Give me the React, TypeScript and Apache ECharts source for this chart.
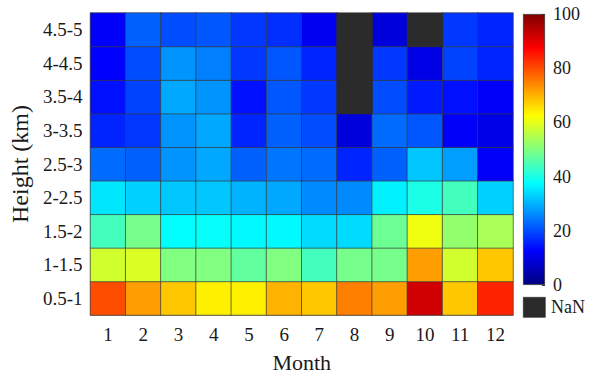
import React, { useEffect, useRef } from "react";
import * as echarts from "echarts";

const months = ["1", "2", "3", "4", "5", "6", "7", "8", "9", "10", "11", "12"];
const heights = ["0.5-1", "1-1.5", "1.5-2", "2-2.5", "2.5-3", "3-3.5", "3.5-4", "4-4.5", "4.5-5"];
const colorbarTicks = [0, 20, 40, 60, 80, 100];

// values per height bin, months 1..12 (null = NaN)
const row05_1 = [80, 72, 68, 64, 64, 70, 68, 75, 72, 92, 68, 84];
const row1_15 = [58, 59, 50, 50, 47, 50, 44, 49, 49, 72, 58, 68];
const row15_2 = [44, 49, 37.5, 38, 37, 37, 34, 34, 48, 61, 52, 54];
const row2_25 = [35, 33, 32, 32, 30, 29, 26, 26, 36, 40, 44, 33];
const row25_3 = [23, 22, 27, 29, 22, 24, 23, 16, 22, 32, 28, 12];
const row3_35 = [16, 18, 27, 29, 16, 22, 20, 9, 23, 21, 12, 10];
const row35_4 = [14, 19, 29, 27, 14, 21, 18, null, 20, 15, 14, 12];
const row4_45 = [12.5, 20, 27, 25, 18, 21, 16, null, 18, 10, 19, 16];
const row45_5 = [12, 22, 20, 21, 18, 17, 11, null, 9, null, 18, 16];

const rows = [row05_1, row1_15, row15_2, row2_25, row25_3, row3_35, row35_4, row4_45, row45_5];

const jet = ["#000080", "#0000ff", "#0080ff", "#00ffff", "#80ff80", "#ffff00", "#ff8000", "#ff0000", "#800000"];
const FONT = "Liberation Serif";

export default function App() {
  const ref = useRef<HTMLDivElement>(null);
  useEffect(() => {
    if (!ref.current) return;
    const chart = echarts.init(ref.current, undefined, { renderer: "svg" });
    const data: any[] = [];
    const nanData: any[] = [];
    rows.forEach((r, yi) =>
      r.forEach((v, xi) => {
        if (v === null) nanData.push([xi, yi, 0]);
        else data.push([xi, yi, v]);
      })
    );
    const stops = jet.map((c, i) => ({ offset: i / (jet.length - 1), color: c }));
    chart.setOption({
      animation: false,
      textStyle: { fontFamily: FONT },
      grid: [
        { left: 90, right: 79, top: 13, bottom: 61, containLabel: false },
        { left: 523, width: 22, top: 14, height: 271 },
      ],
      xAxis: [
        {
          type: "category",
          data: months,
          gridIndex: 0,
          name: "Month",
          nameLocation: "middle",
          nameGap: 36,
          nameTextStyle: { fontFamily: FONT, fontSize: 22, color: "#1a1a1a" },
          axisLabel: { fontFamily: FONT, fontSize: 19, color: "#1a1a1a", margin: 10 },
          axisTick: { show: false },
          axisLine: { show: true, lineStyle: { color: "#888", width: 0.8 } },
          splitLine: { show: false },
        },
        {
          type: "category",
          data: ["cb"],
          gridIndex: 1,
          show: false,
        },
      ],
      yAxis: [
        {
          type: "category",
          data: heights,
          gridIndex: 0,
          name: "Height (km)",
          nameLocation: "middle",
          nameGap: 58,
          nameTextStyle: { fontFamily: FONT, fontSize: 24, color: "#1a1a1a" },
          axisLabel: { fontFamily: FONT, fontSize: 19, color: "#1a1a1a", margin: 8 },
          axisTick: { show: false },
          axisLine: { show: true, lineStyle: { color: "#888", width: 0.8 } },
          splitLine: { show: false },
        },
        {
          type: "value",
          gridIndex: 1,
          min: 0,
          max: 100,
          interval: 20,
          position: "right",
          axisLabel: {
            fontFamily: FONT,
            fontSize: 18,
            color: "#1a1a1a",
            margin: 8,
            formatter: (v: number) => (colorbarTicks.includes(v) ? String(v) : ""),
          },
          axisTick: { show: true, inside: true, length: 3, lineStyle: { color: "#333" } },
          axisLine: { show: false },
          splitLine: { show: false },
        },
      ],
      visualMap: [
        {
          show: false,
          min: 0,
          max: 100,
          seriesIndex: 0,
          inRange: { color: jet },
        },
        {
          show: false,
          min: 0,
          max: 1,
          seriesIndex: 1,
          inRange: { color: ["#2b2b2b", "#2b2b2b"] },
        },
      ],
      series: [
        {
          type: "heatmap",
          xAxisIndex: 0,
          yAxisIndex: 0,
          data,
          itemStyle: { borderColor: "#3a3a3a", borderWidth: 0.7 },
          emphasis: { disabled: true },
        },
        {
          type: "heatmap",
          xAxisIndex: 0,
          yAxisIndex: 0,
          data: nanData,
          itemStyle: { borderColor: "#2b2b2b", borderWidth: 0.5 },
          emphasis: { disabled: true },
        },
        {
          type: "bar",
          xAxisIndex: 1,
          yAxisIndex: 1,
          data: [100],
          barWidth: "100%",
          itemStyle: {
            color: new echarts.graphic.LinearGradient(0, 1, 0, 0, stops),
            borderColor: "#333",
            borderWidth: 0.8,
          },
          emphasis: { disabled: true },
        },
      ],
      graphic: [
        {
          type: "text",
          left: 93,
          top: 24,
          style: { text: "(b)", font: `bold 16px ${FONT}`, fill: "#0a0a40" },
        },
        {
          type: "rect",
          left: 523,
          top: 297,
          shape: { width: 22, height: 20 },
          style: { fill: "#2b2b2b", stroke: "#222", lineWidth: 0.6 },
        },
        {
          type: "text",
          left: 551,
          top: 298,
          style: { text: "NaN", font: `18px ${FONT}`, fill: "#1a1a1a" },
        },
      ],
    });
    return () => chart.dispose();
  }, []);
  return <div ref={ref} style={{ width: 592, height: 378, position: "absolute", left: 0, top: 0, background: "#fff" }} />;
}
